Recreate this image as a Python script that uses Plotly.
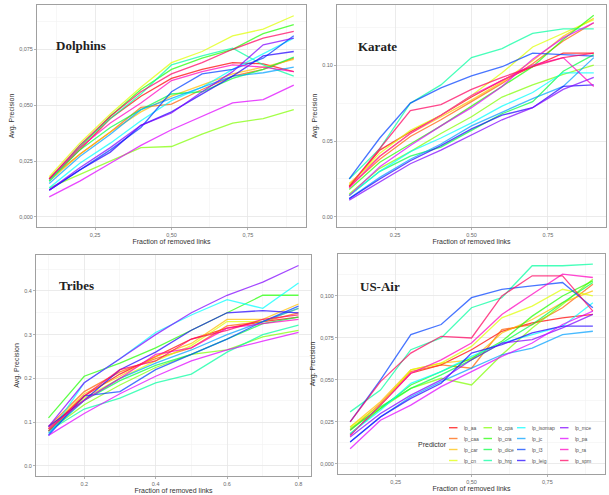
import plotly.graph_objects as go

# ---------------- data ----------------
X9 = [0.1, 0.2, 0.3, 0.4, 0.5, 0.6, 0.7, 0.8, 0.9]
X8 = [0.1, 0.2, 0.3, 0.4, 0.5, 0.6, 0.7, 0.8]

PREDICTORS = ["lp_aa", "lp_caa", "lp_car", "lp_cn", "lp_cpa", "lp_cra", "lp_dice", "lp_hrg",
              "lp_isomap", "lp_jc", "lp_l3", "lp_leig", "lp_mce", "lp_pa", "lp_ra", "lp_spm"]

COLORS = ["rgba(255,0,0,0.72)", "rgba(255,96,0,0.72)", "rgba(255,191,0,0.72)", "rgba(223,255,0,0.72)",
          "rgba(128,255,0,0.72)", "rgba(32,255,0,0.72)", "rgba(0,255,64,0.72)", "rgba(0,255,159,0.72)",
          "rgba(0,255,255,0.72)", "rgba(0,159,255,0.72)", "rgba(0,64,255,0.72)", "rgba(32,0,255,0.72)",
          "rgba(128,0,255,0.72)", "rgba(223,0,255,0.72)", "rgba(255,0,191,0.72)", "rgba(255,0,96,0.72)"]

# Dolphins, avg. precision (x 1e-3)
DOLPHINS = {
    "lp_aa":     [17, 30, 44, 54, 62, 66, 69, 68.5, 65],
    "lp_caa":    [17, 28, 38, 49, 50.5, 57, 63, 66, 71],
    "lp_car":    [16, 28, 38, 47, 54, 59, 64, 67, 70.5],
    "lp_cn":     [18, 33, 46, 58, 69, 74, 81, 84, 90],
    "lp_cpa":    [13, 19, 25, 31, 31.5, 37, 42, 44, 48],
    "lp_cra":    [17, 31, 45, 57, 66, 71, 75, 82, 86],
    "lp_dice":   [16, 30, 40, 48, 55, 56, 62, 66, 71.5],
    "lp_hrg":    [16, 32, 44, 55, 68, 72, 75.5, 68, 63],
    "lp_isomap": [13, 24, 33, 43, 52, 58, 66, 73, 80],
    "lp_jc":     [15, 27, 37, 48, 53, 58, 63, 64.5, 67],
    "lp_l3":     [12, 21, 30, 40, 56, 64, 66, 71, 81],
    "lp_leig":   [12, 21, 29, 41, 47, 55, 63, 72, 74],
    "lp_mce":    [12, 22, 31, 41, 46.5, 56, 65, 77, 80],
    "lp_pa":     [9, 16, 24, 32, 39, 45, 51, 52.5, 59],
    "lp_ra":     [17, 31, 42, 51, 61, 65, 68, 67, 65],
    "lp_spm":    [17, 32, 45, 56, 64, 69, 75, 80, 83],
}

# Karate, avg. precision (x 1e-3)
KARATE = {
    "lp_aa":     [20, 44, 56, 67, 79, 90, 99, 108, 108],
    "lp_caa":    [20, 38, 53, 64, 76, 88, 101, 116, 128],
    "lp_car":    [22, 40, 55, 66, 77, 89, 103, 119, 131],
    "lp_cn":     [21, 42, 57, 67, 80, 95, 112, 121, 130],
    "lp_cpa":    [15, 32, 43, 55, 66, 79, 87, 94, 100],
    "lp_cra":    [18, 36, 48, 60, 73, 86, 99, 117, 133],
    "lp_dice":   [14, 30, 40, 46, 57, 68, 76, 96, 107],
    "lp_hrg":    [25, 45, 75, 87, 105, 111, 121, 124, 124],
    "lp_isomap": [14, 30, 43, 52, 62, 73, 82, 95, 95],
    "lp_jc":     [12, 26, 38, 48, 60, 69, 78, 86, 105],
    "lp_l3":     [25, 52, 75, 85, 93, 99, 108, 107, 106],
    "lp_leig":   [12, 25, 37, 47, 58, 67, 72, 86, 87],
    "lp_mce":    [11, 23, 35, 44, 54, 64, 72, 84, 92],
    "lp_pa":     [14, 33, 47, 60, 72, 86, 104, 118, 128],
    "lp_ra":     [19, 40, 55, 67, 80, 90, 100, 105, 86],
    "lp_spm":    [20, 45, 70, 74, 84, 92, 99, 105, 108],
}

# Tribes, avg. precision
TRIBES = {
    "lp_aa":     [0.085, 0.160, 0.210, 0.250, 0.290, 0.315, 0.330, 0.340],
    "lp_caa":    [0.090, 0.170, 0.215, 0.245, 0.270, 0.320, 0.330, 0.350],
    "lp_car":    [0.085, 0.165, 0.205, 0.250, 0.280, 0.335, 0.335, 0.370],
    "lp_cn":     [0.080, 0.155, 0.200, 0.240, 0.275, 0.330, 0.330, 0.360],
    "lp_cpa":    [0.080, 0.140, 0.185, 0.225, 0.255, 0.265, 0.295, 0.310],
    "lp_cra":    [0.110, 0.205, 0.235, 0.270, 0.310, 0.350, 0.390, 0.390],
    "lp_dice":   [0.080, 0.150, 0.195, 0.230, 0.255, 0.290, 0.325, 0.340],
    "lp_hrg":    [0.080, 0.130, 0.155, 0.190, 0.210, 0.260, 0.300, 0.322],
    "lp_isomap": [0.070, 0.190, 0.245, 0.305, 0.345, 0.380, 0.360, 0.418],
    "lp_jc":     [0.075, 0.150, 0.200, 0.235, 0.265, 0.300, 0.330, 0.360],
    "lp_l3":     [0.070, 0.160, 0.170, 0.220, 0.255, 0.290, 0.330, 0.365],
    "lp_leig":   [0.090, 0.150, 0.220, 0.260, 0.310, 0.350, 0.355, 0.350],
    "lp_mce":    [0.090, 0.190, 0.245, 0.300, 0.350, 0.390, 0.420, 0.458],
    "lp_pa":     [0.070, 0.120, 0.165, 0.205, 0.240, 0.265, 0.285, 0.305],
    "lp_ra":     [0.085, 0.150, 0.200, 0.255, 0.270, 0.315, 0.325, 0.335],
    "lp_spm":    [0.080, 0.160, 0.220, 0.240, 0.290, 0.310, 0.335, 0.345],
}

# US-Air, avg. precision (x 1e-3)
USAIR = {
    "lp_aa":     [17, 35, 54, 59, 68, 79, 84, 87, 89],
    "lp_caa":    [20, 36, 55, 59, 57, 80, 83, 93, 107],
    "lp_car":    [22, 37, 56, 60, 62, 78, 86, 96, 103],
    "lp_cn":     [22, 35, 56, 60, 70, 87, 94, 104, 100],
    "lp_cpa":    [21, 33, 45, 51, 47, 65, 81, 95, 110],
    "lp_cra":    [18, 33, 47, 55, 63, 73, 88, 100, 109],
    "lp_dice":   [20, 34, 45, 53, 62, 72, 83, 96, 108],
    "lp_hrg":    [31, 44, 68, 75, 93, 99, 118, 118, 119],
    "lp_isomap": [18, 32, 48, 55, 64, 72, 77, 82, 96],
    "lp_jc":     [13, 28, 40, 49, 57, 65, 69, 77, 79],
    "lp_l3":     [25, 50, 77, 83, 99, 104, 106, 108, 93],
    "lp_leig":   [13, 28, 39, 48, 66, 71, 78, 82, 82],
    "lp_mce":    [16, 30, 41, 50, 62, 72, 74, 81, 89],
    "lp_pa":     [9, 26, 35, 46, 55, 64, 72, 83, 91],
    "lp_ra":     [17, 35, 54, 62, 72, 89, 101, 113, 111],
    "lp_spm":    [25, 49, 66, 76, 75, 100, 112, 112, 91],
}

DOL_XTICKS = ["0,25", "0,50", "0,75"]
DOL_YTICKS = ["0,000", "0,025", "0,050", "0,075"]
KAR_XTICKS = ["0.25", "0.50", "0.75"]
KAR_YTICKS = ["0.00", "0.05", "0.10"]
TRI_XTICKS = ["0.2", "0.4", "0.6", "0.8"]
TRI_YTICKS = ["0.0", "0.1", "0.2", "0.3", "0.4"]
USA_XTICKS = ["0,25", "0,50", "0,75"]
USA_YTICKS = ["0,000", "0,025", "0,050", "0,075", "0,100"]

# ---------------- layout ----------------
W, H = 609, 495
SANS = "Liberation Sans, Arial, sans-serif"
SERIF = "Liberation Serif, Times New Roman, serif"


def scaled(d, k):
    return {n: [v * k for v in vals] for n, vals in d.items()}


PANELS = [
    dict(title="Dolphins", data=scaled(DOLPHINS, 1e-3), x=X9, box=(37, 5, 306, 227),
         xr=[0.06, 0.94], yr=[-0.0045, 0.0948],
         xv=[0.25, 0.5, 0.75], xt=DOL_XTICKS, yv=[0, 0.025, 0.05, 0.075], yt=DOL_YTICKS,
         xm=[0.125, 0.375, 0.625, 0.875], ym=[0.0125, 0.0375, 0.0625, 0.0875], tpos=(80.5, 45)),
    dict(title="Karate", data=scaled(KARATE, 1e-3), x=X9, box=(337, 5, 606, 227),
         xr=[0.06, 0.94], yr=[-0.0067, 0.1397],
         xv=[0.25, 0.5, 0.75], xt=KAR_XTICKS, yv=[0, 0.05, 0.10], yt=KAR_YTICKS,
         xm=[0.125, 0.375, 0.625, 0.875], ym=[0.025, 0.075, 0.125], tpos=(377.5, 46)),
    dict(title="Tribes", data=TRIBES, x=X8, box=(36, 255, 311, 476),
         xr=[0.065, 0.835], yr=[-0.0229, 0.482],
         xv=[0.2, 0.4, 0.6, 0.8], xt=TRI_XTICKS, yv=[0, 0.1, 0.2, 0.3, 0.4], yt=TRI_YTICKS,
         xm=[0.1, 0.3, 0.5, 0.7], ym=[0.05, 0.15, 0.25, 0.35, 0.45], tpos=(76.5, 285)),
    dict(title="US-Air", data=scaled(USAIR, 1e-3), x=X9, box=(338, 254, 605, 474),
         xr=[0.06, 0.94], yr=[-0.006, 0.125],
         xv=[0.25, 0.5, 0.75], xt=USA_XTICKS, yv=[0, 0.025, 0.05, 0.075, 0.1], yt=USA_YTICKS,
         xm=[0.125, 0.375, 0.625, 0.875], ym=[0.0125, 0.0375, 0.0625, 0.0875, 0.1125], tpos=(380, 286.5)),
]

fig = go.Figure()
annotations = []
axis_common = dict(
    showline=True, mirror=True, linecolor="#A0A0A0", linewidth=1,
    ticks="outside", ticklen=2, tickwidth=0.8, tickcolor="#A0A0A0",
    showgrid=True, gridcolor="#E6E6E6", gridwidth=0.8, zeroline=False,
    tickfont=dict(family=SANS, size=5.5, color="#6A6A6A"),
    automargin=False, fixedrange=True,
)

for i, p in enumerate(PANELS):
    sfx = "" if i == 0 else str(i + 1)
    for name, color in zip(PREDICTORS, COLORS):
        fig.add_trace(go.Scatter(
            x=p["x"], y=p["data"][name], mode="lines", name=name,
            line=dict(color=color, width=1.3), xaxis="x" + sfx, yaxis="y" + sfx,
            showlegend=False, hoverinfo="skip"))
    l, t, r, b = p["box"]
    fig.update_layout({
        "xaxis" + sfx: dict(axis_common, domain=[l / W, r / W], range=p["xr"], anchor="y" + sfx,
                            tickvals=p["xv"], ticktext=p["xt"],
                            minor=dict(tickvals=p["xm"], showgrid=True, gridcolor="#F2F2F2", gridwidth=0.6),
                            title=dict(text="Fraction of removed links", standoff=2,
                                       font=dict(family=SANS, size=7, color="#333333"))),
        "yaxis" + sfx: dict(axis_common, domain=[1 - b / H, 1 - t / H], range=p["yr"], anchor="x" + sfx,
                            tickvals=p["yv"], ticktext=p["yt"],
                            minor=dict(tickvals=p["ym"], showgrid=True, gridcolor="#F2F2F2", gridwidth=0.6),
                            title=dict(text="Avg. Precision", standoff=3,
                                       font=dict(family=SANS, size=7, color="#333333"))),
    })
    tx, ty = p["tpos"]
    annotations.append(dict(text="<b>%s</b>" % p["title"], x=tx / W, y=1 - ty / H, xref="paper", yref="paper",
                            xanchor="center", yanchor="middle", showarrow=False,
                            font=dict(family=SERIF, size=13, color="#222222")))

# ---------------- legend (Predictor key, inside US-Air panel) ----------------
LEG_COL_X = [449, 483.5, 517, 560]   # key-line start per column (px)
LEG_ROW_Y = [427.7, 438.5, 449.5, 460.5]
KEY_LEN = 8.5
shapes = []
for k, (name, color) in enumerate(zip(PREDICTORS, COLORS)):
    cx = LEG_COL_X[k // 4]
    ry = LEG_ROW_Y[k % 4]
    shapes.append(dict(type="line", xref="paper", yref="paper",
                       x0=cx / W, x1=(cx + KEY_LEN) / W, y0=1 - ry / H, y1=1 - ry / H,
                       line=dict(color=color, width=1.4)))
    annotations.append(dict(text=name, x=(cx + KEY_LEN + 4.5) / W, y=1 - ry / H, xref="paper", yref="paper",
                            xanchor="left", yanchor="middle", showarrow=False,
                            font=dict(family=SANS, size=5, color="#555555")))
annotations.append(dict(text="Predictor", x=415.5 / W, y=1 - 444 / H, xref="paper", yref="paper",
                        xanchor="left", yanchor="middle", showarrow=False,
                        font=dict(family=SANS, size=7, color="#333333")))

fig.update_layout(
    width=W, height=H, margin=dict(l=0, r=0, t=0, b=0),
    paper_bgcolor="white", plot_bgcolor="white",
    showlegend=False, annotations=annotations, shapes=shapes,
)

fig.write_html("out.html", config={"displayModeBar": False, "staticPlot": True},
               post_script="document.body.style.margin='0';document.body.style.overflow='hidden';")
